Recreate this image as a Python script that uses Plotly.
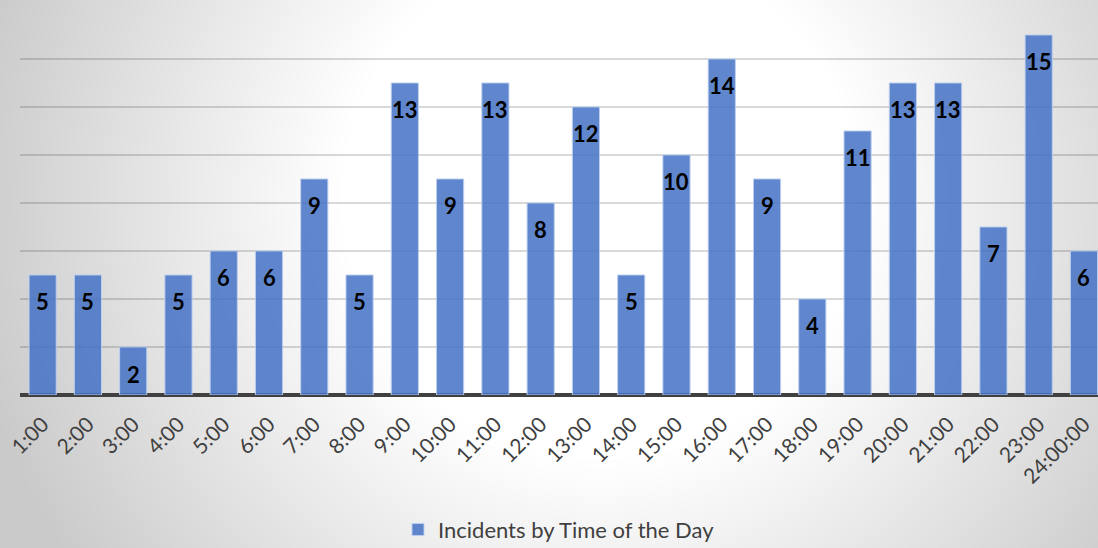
import base64
import struct
import zlib

import numpy as np
import plotly.graph_objects as go

# Hourly incident counts
hours = ["1:00", "2:00", "3:00", "4:00", "5:00", "6:00", "7:00", "8:00",
         "9:00", "10:00", "11:00", "12:00", "13:00", "14:00", "15:00", "16:00",
         "17:00", "18:00", "19:00", "20:00", "21:00", "22:00", "23:00", "24:00:00"]
incidents = [5, 5, 2, 5, 6, 6, 9, 5, 13, 9, 13, 8, 12, 5, 10, 14, 9, 4, 11, 13,
             13, 7, 15, 6]
series_name = "Incidents by Time of the Day"

W, H = 1098, 548
ML, MR, MT, MB = 20, 0, 10, 153
FONT = "Lato"


def gray_png_uri(arr):
    """Encode a 2-D uint8 array as a grayscale PNG data URI."""
    h, w = arr.shape
    raw = b"".join(b"\x00" + arr[i].tobytes() for i in range(h))

    def chunk(tag, data):
        body = tag + data
        return (struct.pack(">I", len(data)) + body
                + struct.pack(">I", zlib.crc32(body) & 0xFFFFFFFF))

    png = (b"\x89PNG\r\n\x1a\n"
           + chunk(b"IHDR", struct.pack(">IIBBBBB", w, h, 8, 0, 0, 0, 0))
           + chunk(b"IDAT", zlib.compress(raw, 9))
           + chunk(b"IEND", b""))
    return "data:image/png;base64," + base64.b64encode(png).decode()


# Radial background: white centre fading to light grey towards the corners
yy, xx = np.mgrid[0:H, 0:W].astype(float)
dist = np.hypot(xx - 600.0, yy - 200.0)
shade = 255.0 - 55.0 * np.clip((dist - 260.0) / 400.0, 0.0, 1.0)
shade = np.clip(shade, 202, 255).astype(np.uint8)
bg_uri = gray_png_uri(shade)

plot_w = W - ML - MR
plot_h = H - MT - MB

fig = go.Figure()
fig.add_trace(go.Bar(
    x=hours,
    y=incidents,
    name=series_name,
    marker=dict(color="rgba(68,114,196,0.85)",
                line=dict(color="rgba(190,208,238,0.95)", width=1)),
    showlegend=True,
))

# Value labels just inside the top of each bar
for h_lbl, v in zip(hours, incidents):
    fig.add_annotation(x=h_lbl, y=v, text=str(v), showarrow=False,
                       yanchor="middle", yshift=-27,
                       font=dict(family=FONT, size=22, color="black",
                                 weight="bold"))

fig.add_layout_image(dict(
    source=bg_uri, xref="paper", yref="paper",
    x=-ML / plot_w, y=1 + MT / plot_h,
    sizex=W / plot_w, sizey=H / plot_h,
    sizing="stretch", layer="below",
))

fig.update_layout(
    width=W, height=H,
    autosize=False,
    margin=dict(l=ML, r=MR, t=MT, b=MB, pad=0, autoexpand=False),
    paper_bgcolor="white",
    plot_bgcolor="rgba(0,0,0,0)",
    bargap=0.4,
    font=dict(family=FONT, color="#404040"),
    xaxis=dict(
        type="category",
        range=[-0.5, 23.31],
        tickangle=-45,
        tickfont=dict(family=FONT, size=21, color="#404040"),
        ticklabelstandoff=12,
        automargin=False,
        showgrid=False,
        ticks="",
        showline=False,
    ),
    yaxis=dict(
        range=[0, 16.04],
        dtick=2,
        showticklabels=False,
        automargin=False,
        showgrid=True,
        gridcolor="rgba(0,0,0,0.15)",
        gridwidth=1.5,
        zeroline=True,
        zerolinecolor="#404040",
        zerolinewidth=4,
        ticks="",
    ),
    legend=dict(
        orientation="h",
        x=0.5, xanchor="center",
        y=-0.35, yanchor="middle",
        bgcolor="rgba(0,0,0,0)",
        font=dict(family=FONT, size=22, color="#404040"),
    ),
)

fig.write_html("out.html")
